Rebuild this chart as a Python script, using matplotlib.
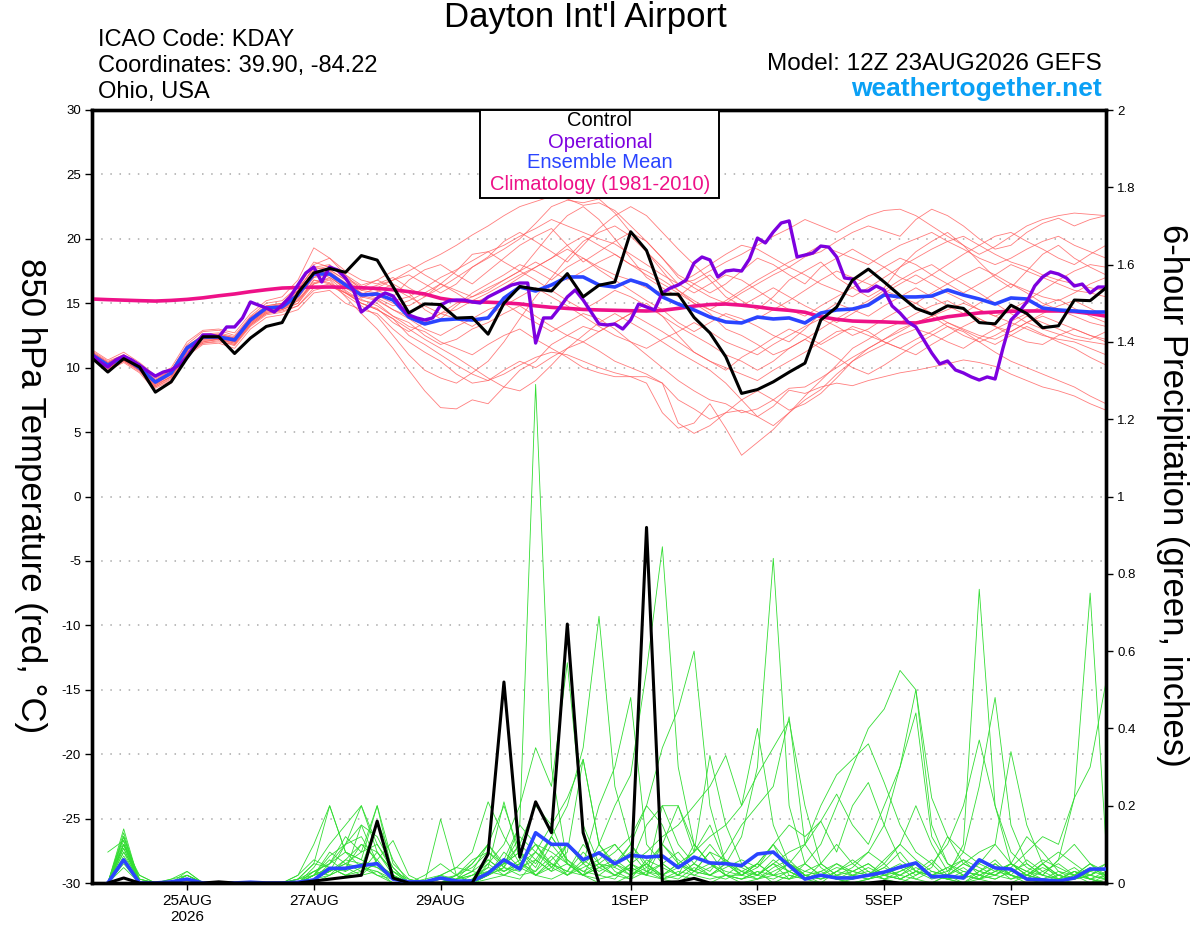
"""GEFS meteogram KDAY: 850 hPa temperature + 6h precip."""
import numpy as np
import matplotlib
matplotlib.use("Agg")
import matplotlib.pyplot as plt
from matplotlib.patches import Rectangle

plt.rcParams["font.family"] = ["Liberation Sans", "DejaVu Sans"]

# ---- time axes (run 12Z 23AUG2026) ----
run0 = np.datetime64("2026-08-23T12:00")
t6 = run0 + np.arange(65) * np.timedelta64(6, "h")    # temps, 6-hourly
t3 = run0 + np.arange(129) * np.timedelta64(3, "h")   # operational, 3-hourly
tp = t6[1:]                                           # 6h precip totals

tick_days = ["2026-08-25", "2026-08-27", "2026-08-29", "2026-09-01",
             "2026-09-03", "2026-09-05", "2026-09-07"]
tick_labels = ["25AUG\n2026", "27AUG", "29AUG", "1SEP", "3SEP", "5SEP", "7SEP"]

# ---- 850 hPa temperature (C) ----
control_t = [10.75, 9.66, 10.7, 10.05, 8.1, 8.9, 10.75, 12.4, 12.4, 11.1, 12.3, 13.2, 13.5,
             15.8, 17.35, 17.7, 17.4, 18.7, 18.35, 16.3, 14.25, 14.95, 14.9, 13.85, 13.9,
             12.6, 15.0, 16.3, 16.1, 15.95, 17.3, 15.5, 16.4, 16.65, 20.55, 19.1, 15.7,
             15.7, 13.9, 12.7, 10.85, 8.0, 8.3, 8.9, 9.65, 10.35, 13.7, 14.7, 16.8, 17.65,
             16.65, 15.6, 14.6, 14.15, 14.8, 14.6, 13.5, 13.4, 14.85, 14.2, 13.1, 13.25,
             15.25, 15.2, 16.2]

oper_t = [10.98, 10.44, 10.05, 10.6, 10.9, 10.6, 10.2, 9.74, 9.35, 9.66, 9.82, 10.2,
          10.83, 11.76, 12.54, 12.54, 12.38, 13.16, 13.16, 13.86, 15.1, 14.86, 14.63,
          14.32, 14.86, 15.49, 16.42, 17.35, 17.81, 16.65, 17.81, 17.58, 16.96, 16.03,
          14.32, 14.79, 15.41, 15.8, 15.56, 14.71, 14.09, 13.86, 13.7, 13.86, 14.86,
          15.17, 15.25, 15.25, 15.1, 15.02, 15.49, 15.8, 16.11, 16.42, 16.57, 16.57,
          11.91, 13.86, 13.86, 14.63, 15.49, 16.03, 15.25, 14.32, 13.39, 13.31, 13.39,
          13.0, 13.7, 14.94, 14.71, 14.48, 15.8, 16.18, 16.42, 16.8, 18.12, 18.59, 18.36,
          17.04, 17.5, 17.58, 17.5, 18.44, 20.06, 19.68, 20.53, 21.23, 21.39, 18.59,
          18.74, 18.9, 19.44, 19.36, 18.59, 16.96, 16.88, 15.95, 15.95, 16.34, 16.03,
          14.79, 14.24, 13.55, 13.16, 12.15, 11.14, 10.29, 10.52, 9.82, 9.59, 9.28, 9.04,
          9.28, 9.12, 11.53, 13.7, 14.32, 15.1, 16.34, 17.04, 17.43, 17.27, 16.96, 16.34,
          16.49, 15.8, 16.26, 16.26]

mean_t = [11.0, 10.2, 10.83, 9.97, 8.88, 9.59, 11.53, 12.38, 12.38, 12.15, 13.7, 14.63,
          14.71, 15.64, 17.27, 17.27, 16.42, 15.64, 15.72, 15.25, 13.93, 13.39, 13.7,
          13.78, 13.7, 13.86, 15.4, 16.26, 15.95, 16.42, 17.04, 17.04, 16.42, 16.26, 16.8,
          16.42, 15.49, 14.94, 14.48, 13.93, 13.55, 13.47, 13.93, 13.78, 13.86, 13.47,
          14.24, 14.48, 14.55, 14.86, 15.64, 15.49, 15.49, 15.56, 16.03, 15.64, 15.33,
          14.94, 15.41, 15.33, 14.63, 14.48, 14.4, 14.32, 14.32]

clim_t = [15.33, 15.28, 15.24, 15.2, 15.17, 15.22, 15.3, 15.42, 15.58, 15.72, 15.9, 16.05,
          16.18, 16.22, 16.25, 16.26, 16.24, 16.2, 16.15, 16.05, 15.9, 15.72, 15.38, 15.2,
          15.12, 15.08, 15.03, 14.95, 14.8, 14.68, 14.6, 14.52, 14.48, 14.45, 14.42, 14.4,
          14.45, 14.6, 14.78, 14.9, 14.94, 14.85, 14.72, 14.55, 14.45, 14.3, 13.95, 13.75,
          13.62, 13.58, 13.55, 13.5, 13.47, 13.7, 13.95, 14.1, 14.25, 14.32, 14.38, 14.4,
          14.4, 14.4, 14.35, 14.2, 14.0]

members_t = [
    [11.3, 10.5, 11.0, 10.3, 9.2, 9.8, 11.8, 12.8, 12.9, 12.5, 14.0, 15.0, 15.2,
     16.3, 18.0, 18.5, 17.2, 16.0, 16.4, 16.8, 17.5, 18.2, 18.8, 19.5, 20.3, 21.0,
     21.8, 22.5, 22.9, 23.3, 23.1, 22.6, 22.8, 22.2, 21.0, 19.8, 18.5, 17.0, 16.2, 15.5, 15.0,
     15.8, 16.5, 17.2, 17.8, 18.6, 19.0, 19.8, 20.5, 21.0, 20.6, 20.2, 21.5, 22.3, 21.8, 21.0, 20.0,
     19.2, 19.5, 20.5, 21.2, 21.6, 21.0, 21.5, 21.8],
    [10.8, 10.0, 10.6, 9.8, 8.5, 9.2, 11.2, 12.0, 12.2, 11.8, 13.3, 14.2, 14.5,
     15.0, 16.5, 16.8, 15.5, 14.2, 13.0, 11.5, 9.8, 8.2, 6.9, 6.8, 7.5, 7.2,
     8.5, 9.8, 10.5, 11.8, 12.5, 13.2, 12.8, 13.5, 14.2, 15.0, 14.0, 12.5, 11.2, 10.5, 9.8,
     10.8, 11.5, 12.3, 13.0, 12.5, 11.8, 12.5, 13.2, 12.8, 12.0, 11.5, 12.2, 12.8, 13.5, 12.9, 12.3,
     11.8, 12.5, 13.2, 12.6, 12.0, 11.5, 10.8, 10.2],
    [11.0, 10.3, 10.9, 10.1, 9.0, 9.6, 11.4, 12.3, 12.5, 12.0, 13.5, 14.4, 14.6,
     15.4, 17.0, 17.2, 16.0, 15.2, 15.0, 14.0, 13.2, 12.8, 12.0, 11.5, 11.0, 11.8,
     12.5, 13.0, 12.2, 11.5, 10.8, 10.0, 9.6, 9.3, 9.3, 8.8, 6.5, 5.3, 5.7, 7.2, 5.3,
     3.2, 4.2, 5.2, 6.5, 7.5, 8.3, 9.5, 10.5, 11.2, 11.8, 12.5, 13.0, 12.6, 12.0, 11.5, 12.3,
     13.0, 13.6, 14.2, 14.8, 15.3, 14.6, 14.0, 13.5],
    [10.6, 9.8, 10.4, 9.6, 8.2, 8.8, 10.9, 11.8, 11.9, 11.5, 13.0, 13.9, 14.1,
     14.5, 15.8, 16.0, 15.0, 14.5, 14.2, 13.0, 12.0, 11.2, 10.5, 9.5, 8.8, 9.0,
     9.8, 10.5, 10.0, 10.8, 11.5, 12.0, 11.3, 10.5, 10.0, 9.5, 8.8, 7.5, 6.8, 6.0, 6.5,
     6.7, 6.2, 7.0, 8.25, 8.0, 8.5, 8.8, 8.6, 9.0, 9.3, 9.6, 9.8, 10.05, 10.3, 10.6, 10.4,
     10.1, 9.5, 9.0, 8.5, 8.2, 7.8, 7.2, 6.7],
    [11.2, 10.4, 11.0, 10.2, 9.1, 9.8, 11.6, 12.6, 12.7, 12.4, 13.9, 14.8, 15.0,
     16.0, 17.8, 17.6, 16.8, 16.0, 15.8, 15.2, 15.5, 16.2, 17.0, 17.6, 18.3, 19.0,
     19.5, 20.2, 20.8, 21.5, 21.0, 20.5, 20.0, 19.6, 18.8, 18.0, 17.2, 16.5, 16.8, 17.5, 18.2,
     18.8, 19.5, 20.2, 20.8, 21.5, 21.0, 20.5, 21.2, 21.8, 22.2, 22.3, 21.8, 21.0, 20.2, 19.5, 18.8,
     19.4, 20.2, 21.0, 21.5, 21.8, 22.0, 21.9, 21.8],
    [10.9, 10.1, 10.7, 9.9, 8.7, 9.5, 11.3, 12.3, 12.2, 12.1, 13.6, 14.5, 14.8,
     15.8, 17.5, 17.0, 16.2, 15.4, 15.9, 16.5, 15.8, 14.5, 13.8, 14.8, 15.8, 16.5,
     17.2, 18.0, 17.5, 16.8, 17.8, 18.5, 17.6, 16.8, 16.0, 15.2, 14.5, 13.5, 12.8, 13.5, 14.2,
     13.8, 13.2, 12.5, 12.0, 13.0, 14.2, 15.0, 14.5, 14.0, 14.8, 15.5, 16.2, 15.5, 14.8, 14.2, 15.0,
     15.8, 16.5, 15.8, 15.0, 14.5, 14.0, 13.5, 13.2],
    [10.7, 9.9, 10.5, 9.7, 8.4, 9.0, 11.0, 11.9, 12.1, 11.7, 13.2, 14.1, 14.3,
     14.8, 16.2, 16.5, 15.6, 14.8, 14.0, 12.5, 11.0, 9.8, 9.2, 8.8, 9.6, 10.5,
     12.0, 13.8, 15.5, 17.0, 18.5, 19.8, 20.5, 21.0, 20.2, 19.0, 17.5, 16.0, 15.0, 14.2, 13.0,
     12.5, 11.8, 11.0, 11.5, 12.2, 13.0, 13.8, 14.5, 15.2, 16.0, 16.8, 17.5, 18.0, 17.2, 16.5, 15.8,
     15.0, 14.2, 13.5, 13.0, 12.6, 12.2, 12.0, 11.8],
    [11.4, 10.6, 11.2, 10.4, 9.4, 10.0, 12.0, 12.9, 13.0, 12.7, 14.2, 15.2, 15.5,
     16.8, 19.3, 18.5, 17.5, 16.8, 16.5, 17.0, 16.2, 15.5, 16.5, 17.5, 18.8, 19.0,
     18.2, 17.5, 19.0, 20.5, 21.8, 22.5, 21.5, 20.0, 18.5, 17.0, 16.2, 15.5, 16.5, 17.2, 16.0,
     15.2, 14.5, 15.5, 16.8, 17.5, 18.2, 17.0, 16.2, 15.5, 16.2, 17.8, 19.0, 19.8, 20.5, 19.5, 18.2,
     17.0, 16.2, 17.5, 18.8, 19.5, 18.5, 17.8, 17.2],
    [10.8, 10.0, 10.6, 9.8, 8.6, 9.3, 11.2, 12.0, 12.2, 11.9, 13.4, 14.3, 14.5,
     15.2, 16.8, 16.5, 15.8, 15.0, 14.5, 13.8, 12.5, 11.8, 11.0, 10.2, 9.5, 9.0,
     9.5, 10.2, 10.8, 11.2, 11.0, 10.5, 10.0, 9.6, 9.3, 9.3, 8.8, 5.7, 4.9, 5.5, 6.5,
     7.5, 8.2, 7.5, 6.7, 7.2, 8.0, 9.2, 10.5, 11.5, 12.2, 13.0, 13.5, 14.0, 13.2, 12.5, 12.0,
     12.5, 13.2, 14.0, 13.5, 13.0, 12.5, 12.2, 12.8],
    [11.1, 10.3, 10.9, 10.0, 8.9, 9.7, 11.6, 12.5, 12.5, 12.3, 13.8, 14.7, 14.9,
     16.0, 17.8, 18.0, 17.0, 16.3, 16.0, 15.5, 16.8, 17.6, 18.0, 17.2, 16.5, 17.5,
     18.5, 19.5, 20.2, 20.8, 19.5, 18.2, 19.0, 19.8, 20.5, 19.8, 18.5, 17.2, 16.5, 15.8, 16.5,
     17.5, 18.5, 18.0, 17.2, 16.5, 17.8, 18.5, 19.2, 18.5, 17.8, 17.0, 16.5, 17.2, 18.0, 18.8, 19.5,
     20.2, 20.5, 19.8, 19.2, 18.5, 18.0, 18.8, 19.5],
    [10.9, 10.2, 10.8, 10.0, 8.8, 9.4, 11.4, 12.2, 12.3, 12.0, 13.6, 14.5, 14.7,
     15.5, 17.2, 17.5, 16.5, 15.5, 15.2, 14.5, 14.0, 13.5, 14.2, 15.0, 15.5, 16.0,
     16.8, 17.5, 16.8, 16.0, 15.2, 14.5, 15.2, 16.0, 15.5, 14.8, 14.0, 13.2, 12.5, 11.8, 11.0,
     10.5, 9.8, 10.5, 11.5, 12.2, 11.5, 10.8, 10.0, 9.5, 10.2, 11.0, 11.8, 12.5, 13.2, 12.8, 12.0,
     11.2, 10.5, 10.0, 9.5, 9.0, 8.5, 7.8, 7.2],
    [11.0, 10.2, 10.7, 10.0, 8.9, 9.6, 11.5, 12.4, 12.4, 12.2, 13.7, 14.6, 14.7,
     15.7, 17.2, 17.4, 16.6, 15.8, 15.6, 15.0, 14.8, 15.5, 16.2, 17.0, 17.8, 18.5,
     19.2, 20.0, 21.2, 22.5, 23.0, 22.8, 23.1, 22.0, 20.5, 19.0, 17.8, 16.5, 15.8, 16.5, 17.2,
     16.8, 16.0, 15.2, 14.5, 14.0, 14.8, 15.5, 16.2, 17.0, 17.8, 18.5, 18.0, 17.2, 16.5, 15.8, 16.5,
     17.2, 18.0, 17.5, 17.0, 16.5, 16.0, 15.8, 15.5],
    [10.7, 9.9, 10.5, 9.8, 8.5, 9.1, 11.1, 11.9, 12.0, 11.8, 13.3, 14.2, 14.4,
     14.8, 16.0, 16.3, 15.8, 15.3, 14.8, 14.0, 13.5, 12.5, 11.8, 12.2, 13.0, 13.5,
     14.2, 14.8, 14.0, 13.2, 12.5, 12.0, 12.8, 13.5, 14.2, 13.5, 12.8, 12.0, 11.2, 10.5, 10.0,
     9.5, 9.0, 9.8, 10.5, 11.2, 12.0, 12.8, 13.0, 12.5, 12.0, 11.5, 11.0, 11.8, 12.5, 13.2, 13.8,
     13.2, 12.5, 12.0, 11.8, 12.5, 13.0, 12.5, 12.0],
    [11.2, 10.4, 10.9, 10.2, 9.0, 9.7, 11.6, 12.5, 12.6, 12.3, 13.8, 14.7, 14.9,
     16.2, 17.6, 17.9, 16.9, 16.2, 16.8, 16.2, 15.5, 14.8, 14.2, 14.5, 15.2, 15.8,
     16.5, 17.2, 17.8, 18.5, 19.2, 18.5, 17.8, 17.2, 16.8, 16.2, 15.8, 16.5, 17.2, 18.0, 18.8,
     19.5, 19.2, 18.5, 17.8, 17.2, 16.5, 16.0, 15.5, 16.2, 17.0, 17.8, 18.5, 19.2, 19.8, 20.2, 19.5,
     18.8, 18.2, 17.8, 17.2, 16.8, 16.5, 16.2, 16.0],
    [10.8, 10.0, 10.7, 9.9, 8.7, 9.3, 11.3, 12.2, 12.2, 12.0, 13.5, 14.4, 14.6,
     15.3, 16.6, 16.9, 15.9, 15.0, 14.5, 13.8, 13.0, 12.2, 11.5, 10.8, 10.0, 9.2,
     8.5, 8.2, 9.0, 10.2, 11.5, 12.5, 13.5, 14.2, 13.5, 12.8, 12.0, 11.2, 10.5, 9.8, 8.8,
     7.5, 6.2, 5.5, 6.5, 7.8, 9.0, 10.2, 11.5, 12.2, 13.0, 13.5, 14.2, 14.8, 15.2, 14.5, 13.8,
     13.2, 12.8, 13.5, 14.2, 14.8, 15.2, 14.6, 14.0],
    [11.1, 10.3, 10.8, 10.1, 8.9, 9.6, 11.5, 12.4, 12.5, 12.2, 13.7, 14.6, 14.8,
     15.9, 17.5, 17.2, 16.5, 15.7, 16.2, 16.8, 17.2, 16.5, 15.8, 16.5, 17.8, 18.6,
     19.8, 20.5, 19.8, 19.0, 18.2, 19.5, 20.8, 21.8, 22.5, 21.8, 20.5, 19.2, 18.0, 16.8, 15.5,
     14.8, 15.5, 16.2, 15.5, 14.8, 14.2, 13.5, 14.2, 15.0, 15.8, 16.5, 17.2, 16.5, 15.8, 15.2, 14.5,
     14.0, 14.5, 15.2, 16.0, 16.8, 17.5, 18.0, 17.8],
    [10.9, 10.1, 10.6, 9.9, 8.8, 9.5, 11.4, 12.3, 12.3, 12.1, 13.6, 14.5, 14.6,
     15.2, 16.5, 17.0, 16.2, 15.6, 15.3, 14.5, 13.8, 13.0, 12.5, 13.2, 13.8, 14.5,
     15.0, 14.2, 13.5, 12.8, 13.5, 14.2, 13.8, 13.0, 12.0, 11.0, 10.0, 9.0, 8.2, 7.5, 7.2,
     6.5, 6.8, 7.5, 8.4, 8.5, 9.2, 10.0, 10.8, 11.5, 12.2, 12.8, 13.5, 14.0, 14.5, 15.0, 14.5,
     14.0, 13.5, 13.0, 12.5, 12.2, 12.0, 11.5, 11.0],
    [11.0, 10.2, 10.8, 10.0, 8.8, 9.5, 11.5, 12.3, 12.4, 12.1, 13.6, 14.6, 14.7,
     15.8, 17.0, 17.6, 16.8, 15.8, 15.4, 14.8, 15.2, 15.8, 16.5, 16.0, 15.5, 16.2,
     16.8, 17.5, 18.2, 17.5, 16.8, 17.5, 18.2, 18.8, 18.0, 17.2, 16.5, 15.8, 15.0, 14.5, 15.2,
     16.0, 16.8, 17.5, 18.2, 18.8, 19.5, 19.0, 18.5, 18.0, 18.8, 19.5, 20.0, 20.5, 19.8, 19.2, 18.5,
     18.0, 18.5, 19.2, 19.8, 20.2, 19.5, 19.0, 18.5],
    [10.8, 10.0, 10.6, 9.8, 8.6, 9.3, 11.2, 12.1, 12.2, 11.9, 13.4, 14.3, 14.5,
     15.0, 16.8, 16.6, 15.8, 15.0, 14.6, 13.5, 12.8, 13.5, 14.2, 13.8, 13.2, 14.0,
     14.8, 15.5, 16.2, 15.5, 14.8, 14.0, 13.2, 12.5, 12.0, 11.5, 12.2, 12.8, 13.5, 12.8, 12.0,
     11.5, 11.0, 11.8, 12.5, 13.2, 13.8, 13.2, 12.5, 13.0, 13.8, 14.5, 15.0, 14.2, 13.5, 13.0, 12.5,
     12.2, 12.8, 13.5, 14.0, 13.5, 13.0, 12.5, 12.2],
    [11.2, 10.4, 11.0, 10.1, 9.0, 9.8, 11.7, 12.5, 12.6, 12.3, 13.9, 14.8, 15.0,
     16.4, 18.2, 17.8, 17.2, 16.4, 16.8, 17.5, 18.0, 17.2, 16.5, 15.8, 15.0, 15.5,
     16.2, 17.0, 17.8, 18.5, 19.5, 20.2, 19.5, 18.8, 18.0, 17.5, 16.8, 16.0, 15.2, 14.5, 14.0,
     13.5, 13.8, 14.5, 15.2, 16.0, 16.8, 17.5, 17.0, 16.5, 16.0, 15.5, 15.0, 15.8, 16.5, 17.2, 17.8,
     17.2, 16.5, 16.0, 15.5, 15.2, 15.8, 16.5, 17.0],
]

# ---- 6-hour precipitation (inches) ----
control_p = [0, .013, 0, 0, 0, 0, 0, .003,
             0, 0, 0, 0, 0, .005, .01, .015,
             .02, .16, .013, 0, 0, 0, 0, 0,
             .075, .52, .067, .21, .13, .67, .13, 0,
             0, 0, .92, .002, .003, .012, 0, 0,
             0, 0, 0, 0, 0, 0, 0, 0,
             0, .004, 0, 0, 0, 0, 0, 0,
             0, 0, 0, 0, 0, 0, 0, 0]

mean_p = [0, .06, 0, 0, .003, .01, 0, 0,
          0, .002, 0, 0, .002, .008, .038, .038,
          .045, .05, .01, .003, .003, .013, .005, .005,
          .025, .06, .036, .13, .10, .10, .06, .078,
          .05, .072, .067, .07, .04, .067, .052, .05,
          .045, .075, .08, .045, .01, .02, .013, .013,
          .02, .028, .041, .052, .016, .018, .013, .06,
          .039, .036, .01, .008, .005, .013, .036, .036]

members_p = [
    [0, .13, 0, 0, 0, .02, 0, 0, 0, 0, 0, 0, 0, .02, .08, .05,
     .04, .03, 0, 0, 0, 0, 0, .01, .03, .06, .15, 1.29, .3, .05, .02, 0,
     0, .02, .05, .01, 0, .03, .08, .02, 0, .01, .03, .05, .02, 0, 0, .01,
     .02, .05, .01, 0, 0, .02, .04, .01, 0, 0, .02, .05, .01, 0, 0, .02],
    [0, .1, 0, 0, 0, .01, 0, 0, 0, 0, 0, 0, 0, .01, .05, .12,
     .08, .2, .02, 0, 0, .01, 0, 0, .02, .05, .08, .04, .12, .06, .02, .1,
     .2, .28, .55, .87, .3, .1, .05, .02, .01, .03, 0, .02, .01, 0, .03, .06,
     .03, .01, 0, .02, .05, .01, 0, .03, .06, .02, 0, 0, .01, .03, .01, 0],
    [0, .12, .01, 0, 0, 0, 0, 0, 0, 0, 0, 0, .01, .05, .2, .08,
     .06, .04, .01, 0, .02, .05, .02, 0, .05, .02, .01, .06, .03, .1, .05, .02,
     .01, .05, .02, .1, .2, .08, .15, .05, .12, .3, .84, .2, .05, .02, .01, 0,
     .01, .02, .04, .01, 0, .02, 0, .01, .05, .02, .01, 0, .02, .04, .01, .02],
    [0, .09, 0, 0, .01, .03, 0, 0, 0, 0, 0, 0, 0, .03, .02, .04,
     .1, .06, .11, .02, 0, 0, .01, .05, .1, .04, .02, .03, .07, .02, .05, .08,
     .03, .01, .06, .04, .02, .1, .05, .02, .02, .01, .04, .06, .02, .01, .02, .04,
     .08, .05, .1, .06, .03, .02, .1, .76, .2, .05, .02, .01, 0, .02, .05, .01],
    [.08, .11, 0, 0, 0, 0, 0, 0, 0, 0, 0, 0, .02, .06, .04, .02,
     .03, .05, .02, 0, 0, .02, .04, .08, .21, .12, .05, .02, .04, .02, .06, .03,
     .05, .1, .04, .02, .05, .03, .02, .05, .03, .01, .02, .05, .03, .02, .01, .03,
     .05, .02, .01, .03, .02, .04, .06, .02, .01, .03, .05, .02, .06, .22, .75, .1],
    [0, .08, .02, 0, 0, .01, 0, 0, 0, 0, 0, 0, 0, .01, .03, .06,
     .05, .02, 0, 0, .01, .02, 0, .02, .05, .1, .2, .35, .25, .57, .15, .05,
     .02, .01, .03, .05, .02, .01, 0, .02, .05, .02, .01, .03, .05, .1, .2, .3,
     .4, .45, .55, .5, .15, .05, .02, .01, .03, .05, .02, .01, .03, .02, 0, .01],
    [0, .14, 0, 0, 0, .02, 0, 0, 0, 0, 0, 0, 0, .04, .1, .15,
     .2, .08, .03, 0, 0, 0, .02, .04, .08, .05, .1, .06, .12, .2, .35, .69,
     .25, .1, .05, .02, .01, .04, .02, .01, .03, .02, .05, .01, .02, .01, .03, .02,
     .01, .03, .02, .05, .02, .01, .03, .02, .04, .01, .02, .05, .02, .01, .03, .05],
    [0, .1, .01, 0, 0, 0, 0, 0, 0, 0, 0, 0, .01, .02, .06, .03,
     .15, .12, .04, 0, 0, .01, 0, 0, .02, .04, .03, .08, .05, .03, .1, .05,
     .08, .12, .2, .35, .45, .6, .2, .05, .02, .05, .02, .03, .01, .02, .05, .03,
     .02, .06, .1, .2, .1, .03, .08, .25, .48, .15, .05, .02, .01, .03, .01, 0],
    [0, .12, 0, 0, 0, .01, 0, 0, 0, 0, 0, 0, 0, .02, .04, .02,
     .02, .06, .01, 0, 0, .165, .02, 0, .03, .05, .08, .02, .06, .1, .05, .2,
     .3, .48, .1, .05, .02, .05, .03, .08, .15, .2, .25, .43, .1, .04, .01, .02,
     .03, .01, .02, .04, .02, .01, .02, .01, .02, .05, .03, .01, .02, .01, .02, .05],
    [0, .11, 0, 0, 0, .02, 0, 0, 0, 0, 0, 0, .01, .03, .05, .08,
     .06, .2, .05, .01, 0, 0, 0, .01, .04, .21, .06, .02, .05, .03, .08, .04,
     .02, .05, .03, .01, .02, .05, .1, .05, .02, .04, .08, .05, .1, .2, .28, .32,
     .36, .26, .15, .08, .05, .1, .2, .37, .2, .08, .04, .02, .01, .03, .02, .01],
    [0, .06, 0, 0, 0, 0, 0, 0, 0, 0, 0, 0, 0, .02, .07, .1,
     .12, .05, .02, 0, 0, 0, .01, .03, .06, .03, .05, .1, .04, .08, .32, .1,
     .05, .02, .04, .1, .05, .03, .08, .06, .03, .05, .02, .01, .03, .05, .1, .05,
     .08, .15, .3, .5, .22, .12, .08, .05, .1, .34, .15, .05, .02, .01, .02, .04],
    [0, .07, .01, 0, 0, .03, 0, 0, 0, 0, 0, 0, 0, .01, .03, .05,
     .03, .08, .02, 0, 0, .02, .04, .03, .02, .08, .04, .06, .03, .05, .02, .05,
     .04, .1, .2, .15, .05, .08, .33, .15, .05, .02, .05, .08, .1, .16, .23, .15,
     .1, .2, .3, .44, .12, .05, .03, .02, .04, .02, .01, .03, .05, .02, .01, .03],
    [0, .09, 0, 0, 0, .01, 0, 0, 0, 0, 0, 0, 0, .02, .03, .05,
     .08, .1, .04, 0, 0, 0, .01, .02, .04, .03, .06, .1, .08, .05, .02, .04,
     .05, .03, .02, .2, .1, .05, .02, .04, .06, .04, .1, .02, .01, .03, .05, .02,
     .01, .03, .05, .02, .04, .12, .05, .03, .02, .04, .08, .12, .1, .22, .3, .52],
    [0, .1, 0, 0, 0, 0, 0, 0, 0, 0, 0, 0, 0, .01, .02, .06,
     .1, .08, .03, 0, 0, 0, 0, .01, .06, .03, .05, .08, .04, .1, .06, .08,
     .1, .05, .08, .12, .15, .2, .25, .33, .2, .4, .15, .05, .02, .01, .03, .05,
     .02, .01, .03, .05, .02, .01, .02, .05, .03, .02, .01, .05, .08, .05, .02, .01],
    [0, .05, 0, 0, 0, .01, 0, 0, 0, 0, 0, 0, .01, .05, .04, .02,
     .04, .16, .06, 0, 0, 0, 0, 0, .02, .04, .15, .1, .05, .02, .04, .06,
     .1, .05, .15, .2, .2, .1, .05, .03, .02, .05, .1, .05, .02, .03, .01, .02,
     .04, .02, .01, .03, .06, .02, .01, .03, .05, .02, .06, .03, .01, .02, .04, .02],
    [0, .12, 0, 0, 0, 0, 0, 0, 0, 0, 0, 0, 0, .03, .05, .1,
     .15, .05, .02, 0, 0, .01, .02, .05, .1, .05, .12, .08, .15, .05, .03, .02,
     .05, .08, .03, .02, .05, .02, .04, .06, .02, .05, .1, .15, .12, .16, .08, .2,
     .26, .15, .06, .03, .01, .02, .05, .03, .02, .05, .12, .08, .03, .01, .02, .04],
    [0, .1, .02, 0, 0, .02, 0, 0, 0, 0, 0, 0, 0, .02, .04, .03,
     .05, .04, .02, 0, 0, 0, .01, .02, .03, .02, .05, .03, .1, .05, .02, .04,
     .06, .03, .05, .02, .04, .08, .12, .15, .2, .28, .35, .42, .2, .05, .02, .01,
     .02, .04, .02, .01, .03, .02, .05, .08, .1, .05, .03, .02, .06, .1, .05, .02],
    [0, .04, 0, 0, 0, 0, 0, 0, 0, 0, 0, 0, 0, 0, .02, .04,
     .02, .03, .01, 0, 0, 0, 0, 0, .01, .02, .04, .02, .01, .03, .02, .01,
     .02, .04, .02, .01, .03, .02, .01, .02, .01, .02, .05, .03, .01, .02, .01, 0,
     .01, .02, .01, .03, .02, .01, 0, .02, .01, .03, .02, .01, 0, .02, .01, 0],
    [0, .08, 0, 0, 0, .01, 0, 0, 0, 0, 0, 0, .02, .1, .2, .08,
     .04, .02, .01, 0, 0, .02, .01, .03, .1, .2, .08, .05, .12, .06, .03, .05,
     .02, .04, .02, .05, .08, .03, .05, .02, .01, .03, .02, .01, .05, .02, .04, .03,
     .02, .04, .08, .03, .02, .04, .02, .01, .03, .05, .02, .04, .02, .01, .03, .02],
    [0, .1, 0, 0, .01, .02, 0, 0, 0, 0, 0, 0, 0, .01, .03, .1,
     .2, .1, .03, .01, 0, 0, .02, .06, .08, .04, .1, .2, .15, .22, .32, .1,
     .04, .02, .05, .1, .06, .03, .02, .05, .04, .02, .06, .03, .01, .05, .02, .03,
     .05, .02, .03, .05, .02, .03, .06, .04, .02, .01, .03, .06, .04, .02, .05, .03],
]

# ---- colours ----
RED = "#FF5C5C"
GREEN = "#33DD33"
PURPLE = "#7D00DF"
BLUE = "#2A44FF"
MAGENTA = "#EE1188"

fig = plt.figure(figsize=(12, 9.27), dpi=100)
ax = fig.add_axes([92 / 1200, 1 - 883 / 927, 1014 / 1200, 773 / 927])
ax2 = ax.twinx()

# temperatures
for m in members_t:
    ax.plot(t6, m, color=RED, lw=0.6, alpha=0.8, zorder=2)
ax.plot(t6, clim_t, color=MAGENTA, lw=2.6, zorder=3)
ax.plot(t6, mean_t, color=BLUE, lw=2.6, zorder=4)
ax.plot(t3, oper_t, color=PURPLE, lw=2.4, zorder=5)
ax.plot(t6, control_t, color="black", lw=2.2, zorder=6)

# precipitation
for m in members_p:
    ax2.plot(tp, m, color=GREEN, lw=0.6, zorder=2)
ax2.plot(tp, mean_p, color=BLUE, lw=2.6, zorder=4)
ax2.plot(tp, control_p, color="black", lw=2.2, zorder=5)

ax.set_ylim(-30, 30)
ax2.set_ylim(0, 2)
ax.set_xlim(t6[0], t6[-1])

ax.set_yticks(np.arange(-30, 31, 5))
ax.set_yticklabels([str(v) for v in range(-30, 31, 5)])
ptick = np.round(np.arange(0, 2.01, 0.2), 1)
ax2.set_yticks(ptick)
ax2.set_yticklabels(["%g" % v for v in ptick])
ax.set_xticks([np.datetime64(d + "T00:00") for d in tick_days])
ax.set_xticklabels(tick_labels)

ax.tick_params(axis="y", labelsize=9.5, length=5, width=1, direction="out", pad=3)
ax2.tick_params(axis="y", labelsize=9.5, length=5, width=1, direction="out", pad=3)
ax.tick_params(axis="x", labelsize=11, length=5, width=1, direction="out", pad=3)

for g in range(-25, 30, 5):
    ax.axhline(g, color="#AAAAAA", lw=1.1, ls=(0, (1, 5)), zorder=1)

for a in (ax, ax2):
    for s in a.spines.values():
        s.set_linewidth(2.4)

# header texts
fig.text(0.488, 1 - 18 / 927, "Dayton Int'l Airport", ha="center", va="center", fontsize=25)
fig.text(98 / 1200, 1 - 40 / 927, "ICAO Code: KDAY", ha="left", va="center", fontsize=17)
fig.text(98 / 1200, 1 - 66 / 927, "Coordinates: 39.90, -84.22", ha="left", va="center", fontsize=17)
fig.text(98 / 1200, 1 - 92 / 927, "Ohio, USA", ha="left", va="center", fontsize=17)
fig.text(1102 / 1200, 1 - 64 / 927, "Model: 12Z 23AUG2026 GEFS", ha="right", va="center", fontsize=17.5)
fig.text(1102 / 1200, 1 - 89 / 927, "weathertogether.net", ha="right", va="center",
         fontsize=19, fontweight="bold", color="#0AA0F5")

fig.text(30 / 1200, 1 - 496 / 927, "850 hPa Temperature (red, \u00b0C)", rotation=270,
         ha="center", va="center", fontsize=25)
fig.text(1173 / 1200, 1 - 495 / 927, "6-hour Precipitation (green, inches)", rotation=270,
         ha="center", va="center", fontsize=25)

# legend box
fig.add_artist(Rectangle((480 / 1200, 1 - 198 / 927), 239 / 1200, 88 / 927,
                         transform=fig.transFigure, facecolor="white",
                         edgecolor="black", lw=1.4, zorder=10))
for y, txt, c in [(121, "Control", "black"), (142, "Operational", PURPLE),
                  (163, "Ensemble Mean", BLUE), (185, "Climatology (1981-2010)", MAGENTA)]:
    fig.text(600 / 1200, 1 - y / 927, txt, ha="center", va="center", fontsize=14.5,
             color=c, zorder=11)

fig.savefig("out.png", dpi=100)
